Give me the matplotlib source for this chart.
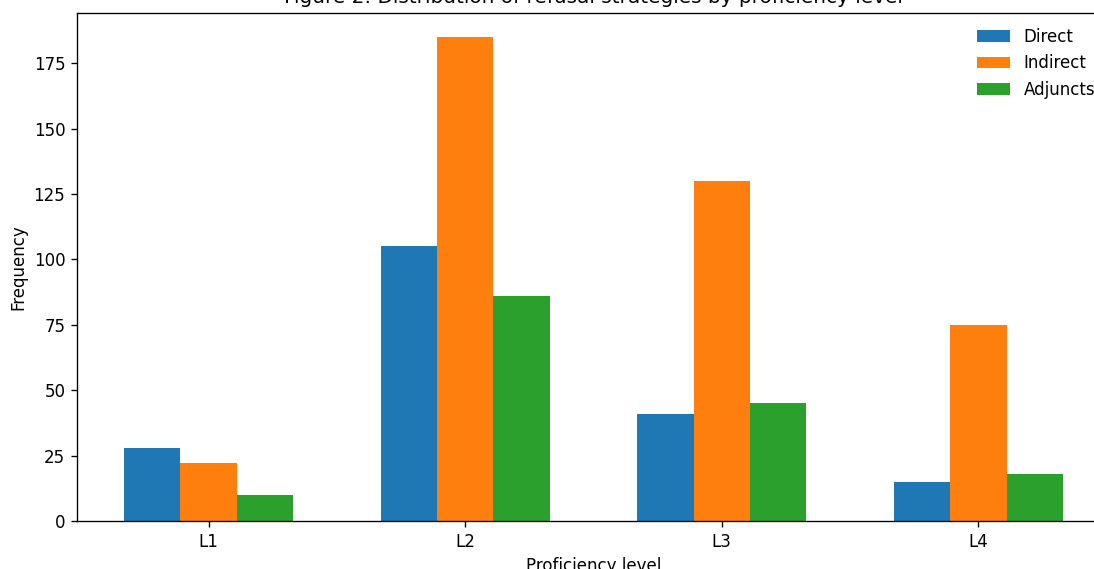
import matplotlib
matplotlib.use("Agg")
import matplotlib.pyplot as plt
import numpy as np

levels = ["L1", "L2", "L3", "L4"]
direct = [28, 105, 41, 15]
indirect = [22, 185, 130, 75]
adjuncts = [10, 86, 45, 18]

DPI = 120
fig = plt.figure(figsize=(1094 / DPI, 569 / DPI), dpi=DPI)
ax = fig.add_axes([77/1094, 48/569, 1033/1094, 508/569])

x = np.arange(len(levels))
w = 0.22
ax.bar(x - w, direct, w, label="Direct", color="#1f77b4")
ax.bar(x, indirect, w, label="Indirect", color="#ff7f0e")
ax.bar(x + w, adjuncts, w, label="Adjuncts", color="#2ca02c")

ax.set_xticks(x)
ax.set_xticklabels(levels)
ax.set_xlabel("Proficiency level")
ax.set_ylabel("Frequency")
ax.set_title("Figure 2: Distribution of refusal strategies by proficiency level")
ax.legend(frameon=False, loc="upper right")

fig.savefig("out.png", dpi=DPI)
